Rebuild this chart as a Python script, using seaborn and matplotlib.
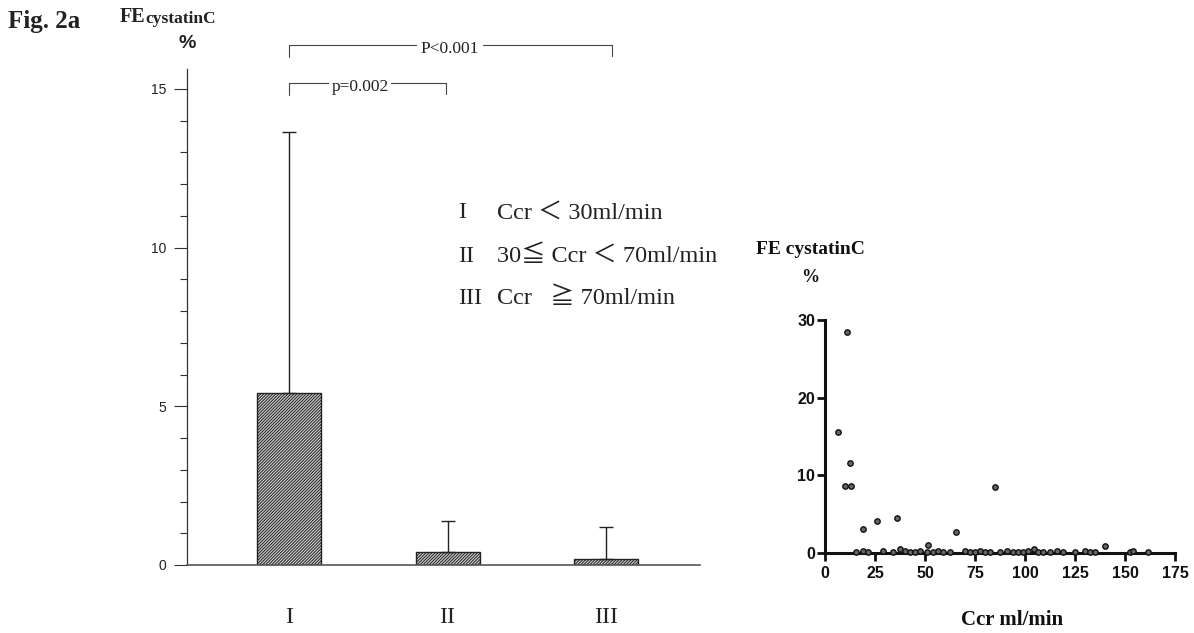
import matplotlib
matplotlib.use("Agg")
import matplotlib.pyplot as plt
import seaborn as sns
import numpy as np
import pandas as pd

# ---------------- data ----------------
group_labels = ["I", "II", "III"]
group_means = [5.41, 0.41, 0.20]          # FE cystatinC (%)
group_sd = [8.24, 0.98, 0.99]             # upper error (SD)

legend_numerals = ["I", "II", "III"]
legend_texts = ["Ccr \uff1c 30ml/min", "30\u2266 Ccr \uff1c 70ml/min", "Ccr   \u2267 70ml/min"]

ccr_values = [6.7, 11.0, 9.8, 13.0, 12.3, 19.2, 26.0, 36.0, 51.3, 65.5, 85.2, 140.0, 104.5, 37.5,
              15.5, 18.8, 21.7, 28.8, 34.2, 40.0, 42.5, 45.0, 47.5, 50.8, 54.0, 56.7, 59.0, 62.5,
              70.0, 72.5, 75.0, 77.5, 80.0, 82.5, 87.5, 90.8, 94.0, 96.7, 99.0, 101.7, 106.7,
              109.0, 112.5, 115.8, 119.0, 125.0, 130.0, 132.5, 135.0, 152.5, 153.8, 161.7]
fe_values = [15.6, 28.5, 8.6, 8.6, 11.6, 3.1, 4.1, 4.5, 1.0, 2.7, 8.5, 0.95, 0.5, 0.5,
             0.15, 0.2, 0.1, 0.2, 0.1, 0.2, 0.15, 0.1, 0.2, 0.1, 0.15, 0.2, 0.1, 0.15,
             0.2, 0.1, 0.15, 0.3, 0.1, 0.15, 0.1, 0.2, 0.1, 0.15, 0.1, 0.2, 0.1,
             0.15, 0.1, 0.2, 0.1, 0.15, 0.2, 0.1, 0.15, 0.1, 0.2, 0.1]

p_texts = ["P<0.001", "p=0.002"]

# ---------------- style ----------------
sns.set_theme(style="white")
plt.rcParams["hatch.color"] = "#222222"
plt.rcParams["hatch.linewidth"] = 0.75

W, H = 1194, 633
fig = plt.figure(figsize=(W / 100, H / 100), dpi=100)
fig.patch.set_facecolor("white")


def px(x, y):
    return x / W, 1 - y / H


SERIF = ["Liberation Serif", "DejaVu Serif", "Noto Sans CJK JP"]

# ---------------- bar chart ----------------
ax = fig.add_axes([187 / W, (H - 565) / H, (700 - 187) / W, (565 - 69) / H])
df = pd.DataFrame({"group": group_labels, "mean": group_means})
sns.barplot(data=df, x="group", y="mean", order=group_labels, ax=ax, width=0.404,
            color="#d8d8d8", edgecolor="#222222", linewidth=1.0, hatch="/" * 11,
            errorbar=None, saturation=1)
ax.errorbar(x=np.arange(len(group_means)), y=group_means,
            yerr=[np.zeros(len(group_sd)), group_sd], fmt="none",
            ecolor="#222222", elinewidth=1.0, capsize=4.7, capthick=1.0, zorder=1)
ax.set_xlim(-0.644, 2.593)
ax.set_ylim(0, 15.63)
ax.set_xlabel("")
ax.set_ylabel("")
for s in ["top", "right"]:
    ax.spines[s].set_visible(False)
ax.spines["left"].set_color("#333333")
ax.spines["left"].set_linewidth(0.9)
ax.spines["bottom"].set_color("#555555")
ax.spines["bottom"].set_linewidth(1.2)
ax.set_yticks([0, 5, 10, 15])
ax.set_yticks(np.arange(0, 16, 1), minor=True)
ax.tick_params(axis="y", which="major", direction="out", length=9.4, width=0.8,
               color="#333333", labelsize=10, pad=5.5, left=True)
ax.tick_params(axis="y", which="minor", direction="out", length=5, width=0.8,
               color="#333333", left=True)
ax.tick_params(axis="x", length=0, pad=30)
for lab in ax.get_yticklabels():
    lab.set_fontfamily(["Liberation Sans", "DejaVu Sans"])
    lab.set_color("#222222")
for lab in ax.get_xticklabels():
    lab.set_fontfamily(SERIF)
    lab.set_fontsize(17)
    lab.set_color("#222222")

# significance brackets
br_col = "#444444"
ax.plot([0, 0, 2.04, 2.04], [16.0, 16.39, 16.39, 16.05], color=br_col, lw=0.8, clip_on=False)
ax.text(1.016, 16.25, p_texts[0], ha="center", va="center", fontsize=12.5,
        family=SERIF, color="#222222",
        bbox=dict(facecolor="white", edgecolor="none", pad=3), clip_on=False)
ax.plot([0, 0, 0.99, 0.99], [14.81, 15.19, 15.19, 14.85], color=br_col, lw=0.8, clip_on=False)
ax.text(0.448, 15.06, p_texts[1], ha="center", va="center", fontsize=12.5,
        family=SERIF, color="#222222",
        bbox=dict(facecolor="white", edgecolor="none", pad=2), clip_on=False)

# legend-like text
for i, (num, txt) in enumerate(zip(legend_numerals, legend_texts)):
    yy = [213, 256, 298][i]
    fig.text(*px(458, yy), num, ha="left", va="center", fontsize=17.5, family=SERIF, color="#222222")
    fig.text(*px(497, yy), txt, ha="left", va="center", fontsize=17.5, family=SERIF, color="#222222")

# headers
fig.text(*px(8, 28), "Fig. 2a", ha="left", va="baseline", fontsize=18, fontweight="bold",
         family=SERIF, color="#222222")
fig.text(*px(120, 22), "FE", ha="left", va="baseline", fontsize=14.5, fontweight="bold",
         family=SERIF, color="#222222")
fig.text(*px(145, 23), "cystatinC", ha="left", va="baseline", fontsize=12.5, fontweight="bold",
         family=SERIF, color="#222222")
fig.text(*px(187, 43), "%", ha="center", va="center", fontsize=14, fontweight="bold",
         family=["Liberation Sans", "DejaVu Sans"], color="#222222")

# ---------------- scatter ----------------
ax2 = fig.add_axes([825 / W, (H - 553) / H, 350 / W, (553 - 320) / H])
sc_df = pd.DataFrame({"ccr": ccr_values, "fe": fe_values})
sns.scatterplot(data=sc_df, x="ccr", y="fe", ax=ax2, s=15, color="#666666",
                edgecolor="#111111", linewidth=1.0, clip_on=False, zorder=4)
ax2.set_xlim(0, 175)
ax2.set_ylim(0, 30)
ax2.set_xlabel("")
ax2.set_ylabel("")
for s in ["top", "right"]:
    ax2.spines[s].set_visible(False)
for s in ["left", "bottom"]:
    ax2.spines[s].set_color("#111111")
    ax2.spines[s].set_linewidth(2.2)
ax2.set_xticks(np.arange(0, 176, 25))
ax2.set_yticks([0, 10, 20, 30])
ax2.tick_params(axis="both", direction="out", length=6, width=2, color="#111111",
                labelsize=11.5, bottom=True, left=True)
ax2.tick_params(axis="y", pad=1)
ax2.tick_params(axis="x", pad=3)
for lab in ax2.get_xticklabels() + ax2.get_yticklabels():
    lab.set_fontfamily(["Liberation Sans", "DejaVu Sans"])
    lab.set_fontweight("bold")
    lab.set_color("#111111")

fig.text(*px(810, 250), "FE cystatinC", ha="center", va="center", fontsize=14,
         fontweight="bold", family=SERIF, color="#111111")
fig.text(*px(810, 278), "%", ha="center", va="center", fontsize=13,
         fontweight="bold", family=SERIF, color="#111111")
fig.text(*px(1012, 620), "Ccr ml/min", ha="center", va="center", fontsize=15,
         fontweight="bold", family=SERIF, color="#111111")

fig.savefig("out.png", dpi=100, facecolor="white")
